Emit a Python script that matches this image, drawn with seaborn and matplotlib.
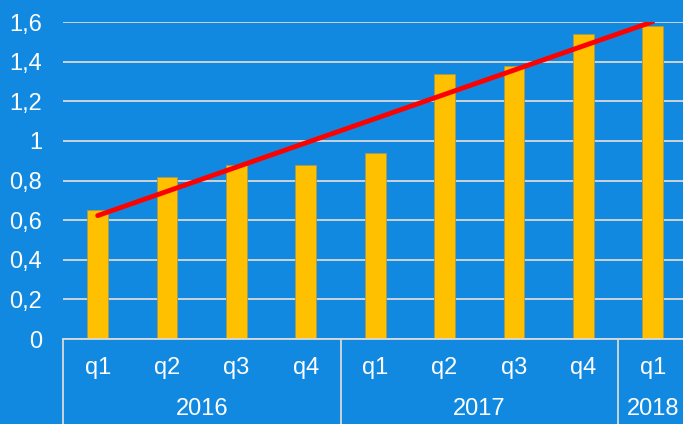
import matplotlib
matplotlib.use("Agg")
import matplotlib.pyplot as plt
import seaborn as sns
import numpy as np
import pandas as pd

quarters = ["q1", "q2", "q3", "q4", "q1", "q2", "q3", "q4", "q1"]
years = ["2016", "2016", "2016", "2016", "2017", "2017", "2017", "2017", "2018"]
values = [0.65, 0.82, 0.88, 0.88, 0.94, 1.34, 1.38, 1.54, 1.58]
yticks = [0, 0.2, 0.4, 0.6, 0.8, 1.0, 1.2, 1.4, 1.6]

BG = "#1289e1"
BAR = "#ffc000"
GRID = "#d9d9d9"
FS = 17

sns.set_theme(style="white")
plt.rcParams["font.family"] = ["Liberation Sans", "DejaVu Sans"]

df = pd.DataFrame({"pos": [str(i) for i in range(len(values))], "value": values})

fig = plt.figure(figsize=(6.83, 4.24), dpi=100, facecolor=BG)
ax = fig.add_axes([63 / 683, 85 / 424, 1 - 63 / 683, (339 - 22) / 424])
ax.set_facecolor(BG)

sns.barplot(data=df, x="pos", y="value", color=BAR, width=0.3, saturation=1,
            edgecolor="#a89a50", linewidth=0.6, ax=ax, zorder=3)

# linear trend line
x = np.arange(len(values))
coef = np.polyfit(x, values, 1)
ax.plot(x, np.polyval(coef, x), color="#ff0000", lw=3.5, zorder=4,
        solid_capstyle="round")

ax.set_ylim(0, 1.6)
ax.set_xlim(-0.5, (683 - 63) / ((618 - 63) / 8) - 0.5)
ax.set_yticks(yticks)
ax.set_yticklabels([("%g" % t).replace(".", ",") for t in yticks],
                   color="white", fontsize=FS)
ax.yaxis.grid(True, color=GRID, lw=1.3, zorder=0)
ax.tick_params(axis="y", length=0, pad=15)
ax.set_xticks([])
ax.set_xlabel("")
ax.set_ylabel("")
for s in ["top", "right", "left"]:
    ax.spines[s].set_visible(False)
ax.spines["bottom"].set_color(GRID)
ax.spines["bottom"].set_linewidth(1.3)
ax.spines["bottom"].set_zorder(5)

# multilevel category labels
trans = ax.get_xaxis_transform()
for i, q in enumerate(quarters):
    ax.text(i, -(368 - 339) / 317, q, transform=trans, ha="center", va="center",
            color="white", fontsize=FS, clip_on=False)

groups = []
for i, yv in enumerate(years):
    if not groups or groups[-1][0] != yv:
        groups.append([yv, i, i])
    else:
        groups[-1][2] = i
for yv, a, b in groups:
    ax.text((a + b) / 2, -(409 - 339) / 317, yv, transform=trans, ha="center",
            va="center", color="white", fontsize=FS, clip_on=False)
    ax.plot([a - 0.5, a - 0.5], [0, -1], transform=trans, color=GRID, lw=1.3,
            clip_on=False, zorder=5)
ax.plot([len(values) - 0.5] * 2, [0, -1], transform=trans, color=GRID, lw=1.3,
        clip_on=False, zorder=5)

fig.savefig("out.png", dpi=100, facecolor=BG)
